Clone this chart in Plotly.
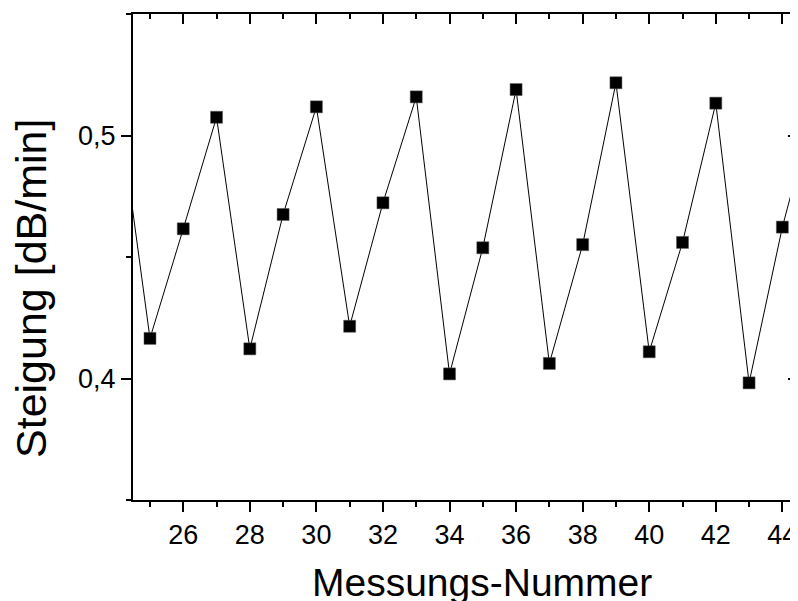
import plotly.graph_objects as go

# Data
messung = [24, 25, 26, 27, 28, 29, 30, 31, 32, 33, 34, 35, 36, 37, 38, 39, 40, 41, 42, 43, 44, 45]
steigung = [0.518, 0.4165, 0.4616, 0.5075, 0.4122, 0.4675, 0.5118, 0.4215, 0.4723, 0.5159,
            0.4019, 0.4538, 0.5189, 0.4062, 0.4551, 0.5217, 0.4110, 0.4560, 0.5133, 0.3982,
            0.4623, 0.514]
x_ticks = [26, 28, 30, 32, 34, 36, 38, 40, 42, 44]
y_ticks = [0.4, 0.5]

x_range = [24.49, 44.47]
y_range = [0.35, 0.55]

font_family = "Liberation Sans, Arial, sans-serif"

# page has an 8px body margin; compensate
OFF = 8
W, H = 798 - OFF, 601 - OFF
L, R, T, B = 133 - OFF, 0, 14 - OFF, 101
PW = W - L - R
PH = H - T - B

fig = go.Figure()
fig.add_trace(go.Scatter(
    x=messung, y=steigung, mode="lines+markers",
    line=dict(color="black", width=1),
    marker=dict(symbol="square", size=12, color="black", line=dict(color="#555", width=0.5)),
    showlegend=False, hoverinfo="x+y",
))
# dummy trace for mirrored (top/right) axes
fig.add_trace(go.Scatter(x=[None], y=[None], xaxis="x2", yaxis="y2", showlegend=False, hoverinfo="skip"))

axis_common = dict(showgrid=False, zeroline=False, showline=True, linecolor="black", linewidth=2,
                   tickcolor="black", tickwidth=2)

fig.update_layout(
    width=W, height=H,
    margin=dict(l=L, r=R, t=T, b=B, pad=0),
    paper_bgcolor="white", plot_bgcolor="white",
    separators=",.",
    font=dict(family=font_family, color="black"),
    xaxis=dict(range=x_range, tickvals=x_ticks, ticks="outside", ticklen=10,
               tickfont=dict(size=27, family=font_family, color="black"),
               minor=dict(dtick=1, tick0=0, ticks="outside", ticklen=5, tickwidth=2, tickcolor="black"),
               **axis_common),
    yaxis=dict(range=y_range, tickvals=y_ticks, tickformat=".1f", ticks="outside", ticklen=10,
               tickfont=dict(size=27, family=font_family, color="black"),
               minor=dict(dtick=0.05, tick0=0, ticks="outside", ticklen=5, tickwidth=2, tickcolor="black"),
               **axis_common),
    xaxis2=dict(range=x_range, overlaying="x", side="top", matches="x", tickvals=x_ticks,
                ticks="inside", ticklen=10, showticklabels=False,
                minor=dict(dtick=1, tick0=0, ticks="inside", ticklen=5, tickwidth=2, tickcolor="black"),
                **axis_common),
    yaxis2=dict(range=y_range, overlaying="y", side="right", matches="y", tickvals=y_ticks,
                ticks="inside", ticklen=10, showticklabels=False,
                minor=dict(dtick=0.05, tick0=0, ticks="inside", ticklen=5, tickwidth=2, tickcolor="black"),
                **axis_common),
    annotations=[
        dict(text="Messungs-Nummer", xref="paper", yref="paper",
             x=(481.5 - 133) / PW, y=-(582 - 500) / PH, xanchor="center", yanchor="middle",
             showarrow=False, font=dict(size=39, family=font_family, color="black")),
        dict(text="Steigung [dB/min]", xref="paper", yref="paper",
             x=-(133 - 31) / PW, y=(500 - 289) / PH, xanchor="center", yanchor="middle",
             textangle=-90, showarrow=False, font=dict(size=43, family=font_family, color="black")),
    ],
)

fig.write_html("out.html")
